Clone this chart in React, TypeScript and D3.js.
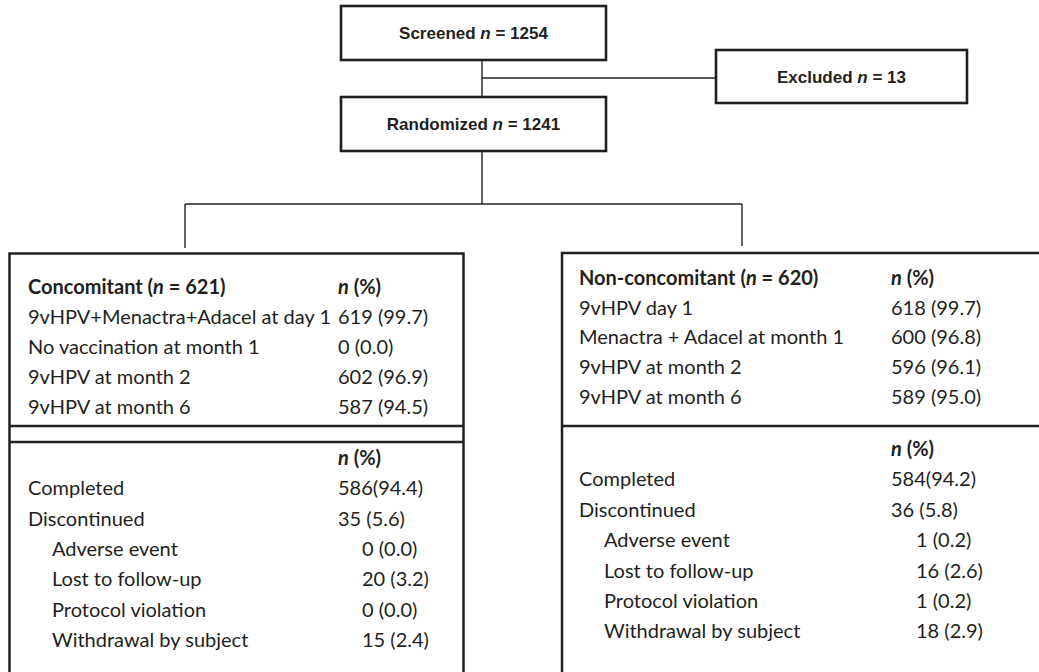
import React from "react";
import * as d3 from "d3";

// ---- data ----
const screenedN = 1254;
const randomizedN = 1241;
const excludedN = 13;

const armNames = ["Concomitant", "Non-concomitant"];
const armN = [621, 620];

const concomitantVaxLabels = [
  "9vHPV+Menactra+Adacel at day 1",
  "No vaccination at month 1",
  "9vHPV at month 2",
  "9vHPV at month 6",
];
const concomitantVaxValues = ["619 (99.7)", "0 (0.0)", "602 (96.9)", "587 (94.5)"];

const nonConcomitantVaxLabels = [
  "9vHPV day 1",
  "Menactra + Adacel at month 1",
  "9vHPV at month 2",
  "9vHPV at month 6",
];
const nonConcomitantVaxValues = ["618 (99.7)", "600 (96.8)", "596 (96.1)", "589 (95.0)"];

const dispositionLabels = [
  "Completed",
  "Discontinued",
  "Adverse event",
  "Lost to follow-up",
  "Protocol violation",
  "Withdrawal by subject",
];
const dispositionIndent = [false, false, true, true, true, true];
const concomitantDispValues = ["586(94.4)", "35 (5.6)", "0 (0.0)", "20 (3.2)", "0 (0.0)", "15 (2.4)"];
const nonConcomitantDispValues = ["584(94.2)", "36 (5.8)", "1 (0.2)", "16 (2.6)", "1 (0.2)", "18 (2.9)"];

// ---- styling ----
const INK = "#231f20";
const BODY_FONT = "Lato, 'Open Sans', sans-serif";
const HEAD_FONT = "'Liberation Sans', Arial, sans-serif";
const BODY_SIZE = 20;
const HEAD_SIZE = 17;

function TopBox({ x0, y0, x1, y1, label, n }) {
  return (
    <g>
      <rect x={x0} y={y0} width={x1 - x0} height={y1 - y0} fill="#fff" stroke={INK} strokeWidth={2.6} />
      <text
        x={(x0 + x1) / 2}
        y={(y0 + y1) / 2}
        dy="0.36em"
        textAnchor="middle"
        fontFamily={HEAD_FONT}
        fontWeight="bold"
        fontSize={HEAD_SIZE}
        fill={INK}
      >
        {label} <tspan fontStyle="italic">n</tspan> = {n}
      </text>
    </g>
  );
}

function ArmPanel({ name, n, vaxLabels, vaxValues, dispValues, layout }) {
  const { textX, valX, indent, headY, vaxStep, nY, dispStep } = layout;
  const vaxY = d3.scaleLinear().domain([0, 1]).range([headY, headY + vaxStep]);
  const dispY = d3.scaleLinear().domain([0, 1]).range([nY, nY + dispStep]);
  const common = { fontFamily: BODY_FONT, fontSize: BODY_SIZE, fill: INK, dy: "0.35em" };
  return (
    <g>
      <text x={textX} y={vaxY(0)} {...common} fontWeight="bold">
        {name} (<tspan fontStyle="italic">n</tspan> = {n})
      </text>
      <text x={valX} y={vaxY(0)} {...common} fontWeight="bold">
        <tspan fontStyle="italic">n</tspan> (%)
      </text>
      {vaxLabels.map((l, i) => (
        <g key={"v" + i}>
          <text x={textX} y={vaxY(i + 1)} {...common}>{l}</text>
          <text x={valX} y={vaxY(i + 1)} {...common}>{vaxValues[i]}</text>
        </g>
      ))}
      <text x={valX} y={dispY(0)} {...common} fontWeight="bold">
        <tspan fontStyle="italic">n</tspan> (%)
      </text>
      {dispositionLabels.map((l, i) => (
        <g key={"d" + i}>
          <text x={textX + (dispositionIndent[i] ? indent : 0)} y={dispY(i + 1)} {...common}>{l}</text>
          <text x={valX + (dispositionIndent[i] ? indent : 0)} y={dispY(i + 1)} {...common}>{dispValues[i]}</text>
        </g>
      ))}
    </g>
  );
}

export default function App() {
  const W = 1039;
  const H = 672;
  const cx = 482;
  const thin = 1.4;
  return (
    <svg
      width={W}
      height={H}
      style={{ position: "absolute", left: 0, top: 0, background: "#fff" }}
      viewBox={`0 0 ${W} ${H}`}
    >
      <rect x={0} y={0} width={W} height={H} fill="#fff" />
      {/* connectors */}
      <g stroke={INK} strokeWidth={thin} fill="none">
        <line x1={cx} y1={60} x2={cx} y2={97} />
        <line x1={cx} y1={78} x2={716} y2={78} />
        <line x1={cx} y1={151} x2={cx} y2={204} />
        <line x1={185} y1={204} x2={742} y2={204} />
        <line x1={185} y1={204} x2={185} y2={248} />
        <line x1={742} y1={204} x2={742} y2={246} />
      </g>
      <TopBox x0={341} y0={6} x1={606} y1={60} label="Screened" n={screenedN} />
      <TopBox x0={341} y0={97} x1={606} y1={151} label="Randomized" n={randomizedN} />
      <TopBox x0={716} y0={50} x1={967} y1={103} label="Excluded" n={excludedN} />

      {/* arm boxes */}
      <g stroke={INK} strokeWidth={2.5} fill="none">
        <rect x={9.5} y={253.5} width={454} height={460} />
        <line x1={9.5} y1={426} x2={463.5} y2={426} />
        <line x1={9.5} y1={442} x2={463.5} y2={442} />
        <rect x={562} y={253} width={500} height={460} />
        <line x1={562} y1={426} x2={1062} y2={426} />
      </g>

      <ArmPanel
        name={armNames[0]}
        n={armN[0]}
        vaxLabels={concomitantVaxLabels}
        vaxValues={concomitantVaxValues}
        dispValues={concomitantDispValues}
        layout={{ textX: 28, valX: 338, indent: 24, headY: 287, vaxStep: 30, nY: 458, dispStep: 30.3 }}
      />
      <ArmPanel
        name={armNames[1]}
        n={armN[1]}
        vaxLabels={nonConcomitantVaxLabels}
        vaxValues={nonConcomitantVaxValues}
        dispValues={nonConcomitantDispValues}
        layout={{ textX: 579, valX: 891, indent: 25, headY: 278, vaxStep: 29.7, nY: 449, dispStep: 30.4 }}
      />
    </svg>
  );
}
